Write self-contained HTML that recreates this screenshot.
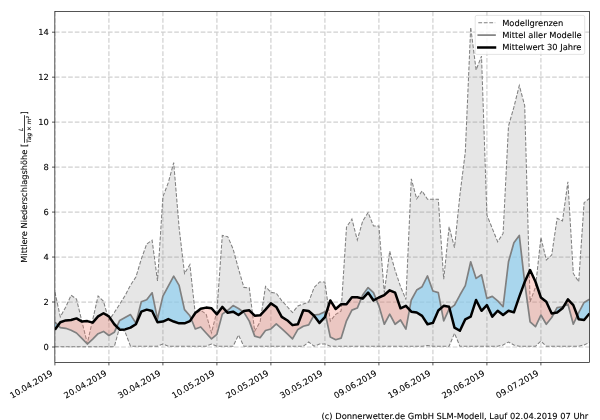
<!DOCTYPE html>
<html lang="de"><head><meta charset="utf-8"><title>Mittlere Niederschlagshöhe</title>
<style>
html,body{margin:0;padding:0;background:#fff;}
body{width:600px;height:420px;overflow:hidden;}
svg{display:block;}
text{font-family:'DejaVu Sans','Liberation Sans',sans-serif;font-size:8.33px;fill:#000;text-rendering:geometricPrecision;stroke:#000;stroke-width:0.18px;stroke-opacity:0.55;}
.it{font-style:italic;}
</style></head><body>
<svg width="600" height="420" viewBox="0 0 600 420">
<rect width="600" height="420" fill="#fff"/>
<clipPath id="ax"><rect x="54.85" y="11.5" width="534.65" height="351.0"/></clipPath>
<g clip-path="url(#ax)">
<path d="M54.9 11.5 V362.5 M108.9 11.5 V362.5 M162.9 11.5 V362.5 M216.9 11.5 V362.5 M270.9 11.5 V362.5 M324.9 11.5 V362.5 M378.9 11.5 V362.5 M432.9 11.5 V362.5 M486.9 11.5 V362.5 M540.9 11.5 V362.5 M54.9 347 H589.5 M54.9 302.03 H589.5 M54.9 257.06 H589.5 M54.9 212.08 H589.5 M54.9 167.11 H589.5 M54.9 122.14 H589.5 M54.9 77.17 H589.5 M54.9 32.2 H589.5" stroke="#808080" stroke-opacity="0.37" stroke-width="1.2" stroke-dasharray="4.63 2" fill="none"/>
<path d="M54.9 292.11 L60.3 316.83 L65.7 307.16 L71.1 295.25 L76.5 299.07 L81.9 321.32 L87.3 343.35 L92.7 319.75 L98.1 295.93 L103.5 301.32 L108.9 320.42 L114.3 312.56 L119.7 304.24 L125.1 295.48 L130.5 285.14 L135.9 277.05 L141.3 259.07 L146.7 244.01 L152.1 240.19 L157.5 280.87 L162.9 196.81 L168.3 182.65 L173.7 162.65 L179.1 227.6 L184.5 273.45 L189.9 264.69 L195.3 314.13 L200.7 310.31 L206.1 314.13 L211.5 332.79 L216.9 311.43 L222.3 235.47 L227.7 236.59 L233.1 248.95 L238.5 268.96 L243.9 287.39 L249.3 287.84 L254.7 331.21 L260.1 322 L265.5 286.49 L270.9 292.33 L276.3 293.23 L281.7 300.65 L287.1 306.49 L292.5 312.56 L297.9 306.04 L303.3 304.02 L308.7 301.99 L314.1 287.61 L319.5 281.99 L324.9 281.99 L330.3 321.1 L335.7 314.36 L341.1 310.98 L346.5 227.15 L351.9 219.06 L357.3 239.96 L362.7 221.08 L368.1 212.54 L373.5 226.03 L378.9 226.03 L384.3 292.56 L389.7 251.2 L395.1 270.31 L400.5 286.49 L405.9 299.52 L411.3 178.83 L416.7 198.83 L422.1 190.97 L427.5 199.28 L432.9 199.28 L438.3 199.28 L443.7 279.3 L449.1 226.7 L454.5 247.61 L459.9 195.01 L465.3 152.09 L470.7 27.13 L476.1 70.05 L481.5 56.12 L486.9 215.02 L492.3 228.5 L497.7 241.76 L503.1 233.45 L508.5 126.02 L513.9 107.14 L519.3 85.56 L524.7 105.56 L530.1 301.77 L535.5 287.16 L540.9 237.49 L546.3 259.97 L551.7 255.02 L557.1 218.39 L562.5 220.86 L567.9 181.75 L573.3 273.45 L578.7 281.77 L584.1 202.66 L589.5 198.39 L589.5 342.45 L584.1 344.92 L578.7 346.27 L573.3 346.27 L567.9 346.27 L562.5 346.27 L557.1 346.27 L551.7 346.27 L546.3 346.27 L540.9 341.1 L535.5 346.27 L530.1 346.27 L524.7 346.27 L519.3 346.27 L513.9 344.92 L508.5 342 L503.1 344.92 L497.7 346.27 L492.3 346.27 L486.9 346.27 L481.5 346.27 L476.1 346.27 L470.7 346.27 L465.3 346.27 L459.9 346.27 L454.5 333.24 L449.1 346.27 L443.7 346.27 L438.3 346.27 L432.9 346.27 L427.5 345.6 L422.1 346.27 L416.7 346.27 L411.3 346.27 L405.9 346.27 L400.5 346.27 L395.1 346.27 L389.7 346.27 L384.3 346.27 L378.9 346.27 L373.5 346.27 L368.1 346.27 L362.7 346.27 L357.3 346.27 L351.9 346.27 L346.5 346.27 L341.1 346.27 L335.7 346.27 L330.3 346.27 L324.9 344.02 L319.5 344.02 L314.1 346.27 L308.7 342 L303.3 346.27 L297.9 346.27 L292.5 346.27 L287.1 346.27 L281.7 346.27 L276.3 346.27 L270.9 346.27 L265.5 346.27 L260.1 346.27 L254.7 346.27 L249.3 346.27 L243.9 346.27 L238.5 335.03 L233.1 346.27 L227.7 346.27 L222.3 346.27 L216.9 346.27 L211.5 344.02 L206.1 346.27 L200.7 346.27 L195.3 346.27 L189.9 346.27 L184.5 346.27 L179.1 346.27 L173.7 346.27 L168.3 346.27 L162.9 344.02 L157.5 346.27 L152.1 346.27 L146.7 346.27 L141.3 346.27 L135.9 346.27 L130.5 346.27 L125.1 331.89 L119.7 326.94 L114.3 346.72 L108.9 346.72 L103.5 346.72 L98.1 346.72 L92.7 346.72 L87.3 346.72 L81.9 346.72 L76.5 346.72 L71.1 346.72 L65.7 346.72 L60.3 346.72 L54.9 346.72 Z" fill="#808080" fill-opacity="0.2" stroke="none"/>
<path d="M54.9 292.11 L60.3 316.83 L65.7 307.16 L71.1 295.25 L76.5 299.07 L81.9 321.32 L87.3 343.35 L92.7 319.75 L98.1 295.93 L103.5 301.32 L108.9 320.42 L114.3 312.56 L119.7 304.24 L125.1 295.48 L130.5 285.14 L135.9 277.05 L141.3 259.07 L146.7 244.01 L152.1 240.19 L157.5 280.87 L162.9 196.81 L168.3 182.65 L173.7 162.65 L179.1 227.6 L184.5 273.45 L189.9 264.69 L195.3 314.13 L200.7 310.31 L206.1 314.13 L211.5 332.79 L216.9 311.43 L222.3 235.47 L227.7 236.59 L233.1 248.95 L238.5 268.96 L243.9 287.39 L249.3 287.84 L254.7 331.21 L260.1 322 L265.5 286.49 L270.9 292.33 L276.3 293.23 L281.7 300.65 L287.1 306.49 L292.5 312.56 L297.9 306.04 L303.3 304.02 L308.7 301.99 L314.1 287.61 L319.5 281.99 L324.9 281.99 L330.3 321.1 L335.7 314.36 L341.1 310.98 L346.5 227.15 L351.9 219.06 L357.3 239.96 L362.7 221.08 L368.1 212.54 L373.5 226.03 L378.9 226.03 L384.3 292.56 L389.7 251.2 L395.1 270.31 L400.5 286.49 L405.9 299.52 L411.3 178.83 L416.7 198.83 L422.1 190.97 L427.5 199.28 L432.9 199.28 L438.3 199.28 L443.7 279.3 L449.1 226.7 L454.5 247.61 L459.9 195.01 L465.3 152.09 L470.7 27.13 L476.1 70.05 L481.5 56.12 L486.9 215.02 L492.3 228.5 L497.7 241.76 L503.1 233.45 L508.5 126.02 L513.9 107.14 L519.3 85.56 L524.7 105.56 L530.1 301.77 L535.5 287.16 L540.9 237.49 L546.3 259.97 L551.7 255.02 L557.1 218.39 L562.5 220.86 L567.9 181.75 L573.3 273.45 L578.7 281.77 L584.1 202.66 L589.5 198.39" fill="none" stroke="#808080" stroke-width="1.05" stroke-dasharray="3.8 1.7"/>
<path d="M54.9 346.72 L60.3 346.72 L65.7 346.72 L71.1 346.72 L76.5 346.72 L81.9 346.72 L87.3 346.72 L92.7 346.72 L98.1 346.72 L103.5 346.72 L108.9 346.72 L114.3 346.72 L119.7 326.94 L125.1 331.89 L130.5 346.27 L135.9 346.27 L141.3 346.27 L146.7 346.27 L152.1 346.27 L157.5 346.27 L162.9 344.02 L168.3 346.27 L173.7 346.27 L179.1 346.27 L184.5 346.27 L189.9 346.27 L195.3 346.27 L200.7 346.27 L206.1 346.27 L211.5 344.02 L216.9 346.27 L222.3 346.27 L227.7 346.27 L233.1 346.27 L238.5 335.03 L243.9 346.27 L249.3 346.27 L254.7 346.27 L260.1 346.27 L265.5 346.27 L270.9 346.27 L276.3 346.27 L281.7 346.27 L287.1 346.27 L292.5 346.27 L297.9 346.27 L303.3 346.27 L308.7 342 L314.1 346.27 L319.5 344.02 L324.9 344.02 L330.3 346.27 L335.7 346.27 L341.1 346.27 L346.5 346.27 L351.9 346.27 L357.3 346.27 L362.7 346.27 L368.1 346.27 L373.5 346.27 L378.9 346.27 L384.3 346.27 L389.7 346.27 L395.1 346.27 L400.5 346.27 L405.9 346.27 L411.3 346.27 L416.7 346.27 L422.1 346.27 L427.5 345.6 L432.9 346.27 L438.3 346.27 L443.7 346.27 L449.1 346.27 L454.5 333.24 L459.9 346.27 L465.3 346.27 L470.7 346.27 L476.1 346.27 L481.5 346.27 L486.9 346.27 L492.3 346.27 L497.7 346.27 L503.1 344.92 L508.5 342 L513.9 344.92 L519.3 346.27 L524.7 346.27 L530.1 346.27 L535.5 346.27 L540.9 341.1 L546.3 346.27 L551.7 346.27 L557.1 346.27 L562.5 346.27 L567.9 346.27 L573.3 346.27 L578.7 346.27 L584.1 344.92 L589.5 342.45" fill="none" stroke="#808080" stroke-width="1.05" stroke-dasharray="3.8 1.7"/>
<path d="M54.9 322 L58.07 325.29 L58.07 325.29 L54.9 329.64 Z M116.82 326.77 L119.7 320.42 L125.1 317.5 L130.5 314.58 L135.9 323.12 L141.3 301.77 L146.7 299.75 L152.1 292.78 L157.5 319.08 L162.9 296.15 L168.3 286.04 L173.7 276.15 L179.1 285.36 L184.5 309.64 L189.9 315.7 L191.26 319.05 L191.26 319.05 L189.9 321.1 L184.5 323.35 L179.1 323.35 L173.7 321.55 L168.3 319.08 L162.9 321.55 L157.5 322.22 L152.1 310.98 L146.7 309.64 L141.3 311.66 L135.9 324.25 L130.5 327.62 L125.1 329.41 L119.7 329.64 L116.82 326.77 Z M226.32 311.29 L227.7 310.31 L233.1 305.59 L238.5 308.51 L242.97 311.68 L242.97 311.68 L238.5 315.03 L233.1 311.66 L227.7 312.78 L226.32 311.29 Z M313.85 315.49 L314.1 315.03 L319.5 314.36 L324.9 311.66 L325.59 314.92 L325.59 314.92 L324.9 317.05 L319.5 322.9 L314.1 315.7 L313.85 315.49 Z M361.35 298.29 L362.7 295.03 L368.1 287.61 L373.5 292.56 L376.12 299 L376.12 299 L373.5 300.42 L368.1 292.56 L362.7 298.62 L361.35 298.29 Z M409.5 309.71 L411.3 299.97 L416.7 290.08 L422.1 286.71 L427.5 275.92 L432.9 290.98 L438.3 292.56 L441.24 307.97 L441.24 307.97 L438.3 310.54 L432.9 322.9 L427.5 324.25 L422.1 315.93 L416.7 312.56 L411.3 311.66 L409.5 309.71 Z M449.64 308.79 L454.5 305.14 L459.9 295.03 L465.3 285.59 L470.7 261.76 L476.1 278.4 L481.5 274.8 L486.9 298.4 L492.3 296.38 L497.7 300.87 L503.1 306.71 L508.5 261.76 L513.9 242.66 L519.3 235.47 L524.64 282.15 L524.64 282.15 L519.3 296.6 L513.9 312.33 L508.5 310.76 L503.1 315.03 L497.7 310.76 L492.3 316.6 L486.9 305.14 L481.5 310.76 L476.1 299.97 L470.7 316.6 L465.3 319.3 L459.9 330.76 L454.5 327.62 L449.64 308.79 Z M554.13 313.05 L557.1 307.61 L562.5 306.94 L563.7 306.29 L563.7 306.29 L562.5 308.29 L557.1 312.56 L554.13 313.05 Z M577.29 315.61 L578.7 312.56 L584.1 302.44 L589.5 299.3 L589.5 313.46 L584.1 319.97 L578.7 319.3 L577.29 315.61 Z" fill="rgb(142,207,240)" fill-opacity="0.7" stroke="none"/>
<path d="M58.07 325.29 L60.3 327.62 L65.7 328.29 L71.1 330.31 L76.5 333.01 L81.9 338.4 L87.3 344.02 L92.7 339.08 L98.1 333.68 L103.5 331.44 L108.9 335.48 L114.3 332.34 L116.82 326.77 L116.82 326.77 L114.3 324.25 L108.9 316.38 L103.5 313.23 L98.1 316.38 L92.7 322.67 L87.3 321.1 L81.9 321.55 L76.5 318.4 L71.1 319.97 L65.7 320.42 L60.3 322.22 L58.07 325.29 Z M191.26 319.05 L195.3 328.96 L200.7 326.94 L206.1 333.01 L211.5 338.85 L216.9 334.36 L222.3 314.13 L226.32 311.29 L226.32 311.29 L222.3 306.94 L216.9 314.36 L211.5 308.29 L206.1 307.61 L200.7 308.74 L195.3 313.01 L191.26 319.05 Z M242.97 311.68 L243.9 312.33 L249.3 321.1 L254.7 336.16 L260.1 337.73 L265.5 330.54 L270.9 328.96 L276.3 323.8 L281.7 328.74 L287.1 333.68 L292.5 338.85 L297.9 329.41 L303.3 326.27 L308.7 324.92 L313.85 315.49 L313.85 315.49 L308.7 310.98 L303.3 310.31 L297.9 324.25 L292.5 325.14 L287.1 320.2 L281.7 316.83 L276.3 306.94 L270.9 303.34 L265.5 309.64 L260.1 315.26 L254.7 315.7 L249.3 310.31 L243.9 310.98 L242.97 311.68 Z M325.59 314.92 L330.3 337.06 L335.7 339.75 L341.1 338.18 L346.5 320.87 L351.9 310.09 L357.3 308.06 L361.35 298.29 L361.35 298.29 L357.3 297.28 L351.9 297.28 L346.5 304.24 L341.1 304.24 L335.7 308.96 L330.3 300.42 L325.59 314.92 Z M376.12 299 L378.9 305.82 L384.3 324.25 L389.7 314.13 L395.1 324.25 L400.5 319.97 L405.9 329.19 L409.5 309.71 L409.5 309.71 L405.9 305.82 L400.5 308.29 L395.1 292.56 L389.7 290.31 L384.3 295.03 L378.9 297.5 L376.12 299 Z M441.24 307.97 L443.7 320.87 L449.1 309.19 L449.64 308.79 L449.64 308.79 L449.1 306.71 L443.7 305.82 L441.24 307.97 Z M524.64 282.15 L524.7 282.67 L530.1 321.77 L535.5 326.72 L540.9 315.03 L546.3 324.25 L551.7 317.5 L554.13 313.05 L554.13 313.05 L551.7 313.46 L546.3 301.77 L540.9 297.5 L535.5 281.77 L530.1 270.08 L524.7 281.99 L524.64 282.15 Z M563.7 306.29 L567.9 304.02 L573.3 324.25 L577.29 315.61 L577.29 315.61 L573.3 305.14 L567.9 299.3 L563.7 306.29 Z" fill="#fa8072" fill-opacity="0.3" stroke="none"/>
<path d="M54.9 322 L60.3 327.62 L65.7 328.29 L71.1 330.31 L76.5 333.01 L81.9 338.4 L87.3 344.02 L92.7 339.08 L98.1 333.68 L103.5 331.44 L108.9 335.48 L114.3 332.34 L119.7 320.42 L125.1 317.5 L130.5 314.58 L135.9 323.12 L141.3 301.77 L146.7 299.75 L152.1 292.78 L157.5 319.08 L162.9 296.15 L168.3 286.04 L173.7 276.15 L179.1 285.36 L184.5 309.64 L189.9 315.7 L195.3 328.96 L200.7 326.94 L206.1 333.01 L211.5 338.85 L216.9 334.36 L222.3 314.13 L227.7 310.31 L233.1 305.59 L238.5 308.51 L243.9 312.33 L249.3 321.1 L254.7 336.16 L260.1 337.73 L265.5 330.54 L270.9 328.96 L276.3 323.8 L281.7 328.74 L287.1 333.68 L292.5 338.85 L297.9 329.41 L303.3 326.27 L308.7 324.92 L314.1 315.03 L319.5 314.36 L324.9 311.66 L330.3 337.06 L335.7 339.75 L341.1 338.18 L346.5 320.87 L351.9 310.09 L357.3 308.06 L362.7 295.03 L368.1 287.61 L373.5 292.56 L378.9 305.82 L384.3 324.25 L389.7 314.13 L395.1 324.25 L400.5 319.97 L405.9 329.19 L411.3 299.97 L416.7 290.08 L422.1 286.71 L427.5 275.92 L432.9 290.98 L438.3 292.56 L443.7 320.87 L449.1 309.19 L454.5 305.14 L459.9 295.03 L465.3 285.59 L470.7 261.76 L476.1 278.4 L481.5 274.8 L486.9 298.4 L492.3 296.38 L497.7 300.87 L503.1 306.71 L508.5 261.76 L513.9 242.66 L519.3 235.47 L524.7 282.67 L530.1 321.77 L535.5 326.72 L540.9 315.03 L546.3 324.25 L551.7 317.5 L557.1 307.61 L562.5 306.94 L567.9 304.02 L573.3 324.25 L578.7 312.56 L584.1 302.44 L589.5 299.3" fill="none" stroke="#808080" stroke-width="1.7" stroke-linejoin="round"/>
<path d="M54.9 329.64 L60.3 322.22 L65.7 320.42 L71.1 319.97 L76.5 318.4 L81.9 321.55 L87.3 321.1 L92.7 322.67 L98.1 316.38 L103.5 313.23 L108.9 316.38 L114.3 324.25 L119.7 329.64 L125.1 329.41 L130.5 327.62 L135.9 324.25 L141.3 311.66 L146.7 309.64 L152.1 310.98 L157.5 322.22 L162.9 321.55 L168.3 319.08 L173.7 321.55 L179.1 323.35 L184.5 323.35 L189.9 321.1 L195.3 313.01 L200.7 308.74 L206.1 307.61 L211.5 308.29 L216.9 314.36 L222.3 306.94 L227.7 312.78 L233.1 311.66 L238.5 315.03 L243.9 310.98 L249.3 310.31 L254.7 315.7 L260.1 315.26 L265.5 309.64 L270.9 303.34 L276.3 306.94 L281.7 316.83 L287.1 320.2 L292.5 325.14 L297.9 324.25 L303.3 310.31 L308.7 310.98 L314.1 315.7 L319.5 322.9 L324.9 317.05 L330.3 300.42 L335.7 308.96 L341.1 304.24 L346.5 304.24 L351.9 297.28 L357.3 297.28 L362.7 298.62 L368.1 292.56 L373.5 300.42 L378.9 297.5 L384.3 295.03 L389.7 290.31 L395.1 292.56 L400.5 308.29 L405.9 305.82 L411.3 311.66 L416.7 312.56 L422.1 315.93 L427.5 324.25 L432.9 322.9 L438.3 310.54 L443.7 305.82 L449.1 306.71 L454.5 327.62 L459.9 330.76 L465.3 319.3 L470.7 316.6 L476.1 299.97 L481.5 310.76 L486.9 305.14 L492.3 316.6 L497.7 310.76 L503.1 315.03 L508.5 310.76 L513.9 312.33 L519.3 296.6 L524.7 281.99 L530.1 270.08 L535.5 281.77 L540.9 297.5 L546.3 301.77 L551.7 313.46 L557.1 312.56 L562.5 308.29 L567.9 299.3 L573.3 305.14 L578.7 319.3 L584.1 319.97 L589.5 313.46" fill="none" stroke="#000" stroke-width="2.5" stroke-linejoin="round" stroke-linecap="butt"/>
</g>
<rect x="54.85" y="11.5" width="534.65" height="351.0" fill="none" stroke="#000" stroke-width="0.67"/>
<path d="M54.9 362.5 v2.9 M108.9 362.5 v2.9 M162.9 362.5 v2.9 M216.9 362.5 v2.9 M270.9 362.5 v2.9 M324.9 362.5 v2.9 M378.9 362.5 v2.9 M432.9 362.5 v2.9 M486.9 362.5 v2.9 M540.9 362.5 v2.9 M54.9 347 h-2.9 M54.9 302.03 h-2.9 M54.9 257.06 h-2.9 M54.9 212.08 h-2.9 M54.9 167.11 h-2.9 M54.9 122.14 h-2.9 M54.9 77.17 h-2.9 M54.9 32.2 h-2.9" stroke="#000" stroke-width="0.67" fill="none"/>
<text x="48.9" y="350.25" text-anchor="end">0</text>
<text x="48.9" y="305.28" text-anchor="end">2</text>
<text x="48.9" y="260.31" text-anchor="end">4</text>
<text x="48.9" y="215.33" text-anchor="end">6</text>
<text x="48.9" y="170.36" text-anchor="end">8</text>
<text x="48.9" y="125.39" text-anchor="end">10</text>
<text x="48.9" y="80.42" text-anchor="end">12</text>
<text x="48.9" y="35.45" text-anchor="end">14</text>
<text transform="translate(53.4 374.8) rotate(-30)" text-anchor="end">10.04.2019</text>
<text transform="translate(107.4 374.8) rotate(-30)" text-anchor="end">20.04.2019</text>
<text transform="translate(161.4 374.8) rotate(-30)" text-anchor="end">30.04.2019</text>
<text transform="translate(215.4 374.8) rotate(-30)" text-anchor="end">10.05.2019</text>
<text transform="translate(269.4 374.8) rotate(-30)" text-anchor="end">20.05.2019</text>
<text transform="translate(323.4 374.8) rotate(-30)" text-anchor="end">30.05.2019</text>
<text transform="translate(377.4 374.8) rotate(-30)" text-anchor="end">09.06.2019</text>
<text transform="translate(431.4 374.8) rotate(-30)" text-anchor="end">19.06.2019</text>
<text transform="translate(485.4 374.8) rotate(-30)" text-anchor="end">29.06.2019</text>
<text transform="translate(539.4 374.8) rotate(-30)" text-anchor="end">09.07.2019</text>
<g transform="translate(26.6 262.7) rotate(-90)">
<text x="0" y="0" style="font-size:8.27px">Mittlere Niederschlagshöhe [</text>
<text class="it" x="133.4" y="-3.7" text-anchor="middle" style="font-size:5.83px">L</text>
<path d="M119.9 -2.1 H147.5" stroke="#000" stroke-width="0.75" fill="none"/>
<text class="it" x="133.3" y="4.0" text-anchor="middle" style="font-size:5.83px">Tag × m<tspan dy="-2" style="font-size:4.1px">2</tspan></text>
<text x="148.1" y="0">]</text>
</g>
<rect x="475.2" y="15.4" width="109.5" height="39" rx="1.7" ry="1.7" fill="#fff" fill-opacity="0.8" stroke="#ccc" stroke-opacity="0.8" stroke-width="0.67"/>
<path d="M478.3 22.7 H495.2" stroke="#808080" stroke-width="1.05" stroke-dasharray="3.8 1.7" fill="none"/>
<path d="M478.3 35.1 H495" stroke="#808080" stroke-width="1.7" stroke-linecap="square" fill="none"/>
<path d="M478.3 47.5 H495" stroke="#000" stroke-width="2.5" stroke-linecap="square" fill="none"/>
<text x="502.2" y="25.5">Modellgrenzen</text>
<text x="502.2" y="37.8">Mittel aller Modelle</text>
<text x="502.2" y="50.3">Mittelwert 30 Jahre</text>
<text x="588.3" y="418.5" text-anchor="end">(c) Donnerwetter.de GmbH SLM-Modell, Lauf 02.04.2019 07 Uhr</text>
</svg>
</body></html>
